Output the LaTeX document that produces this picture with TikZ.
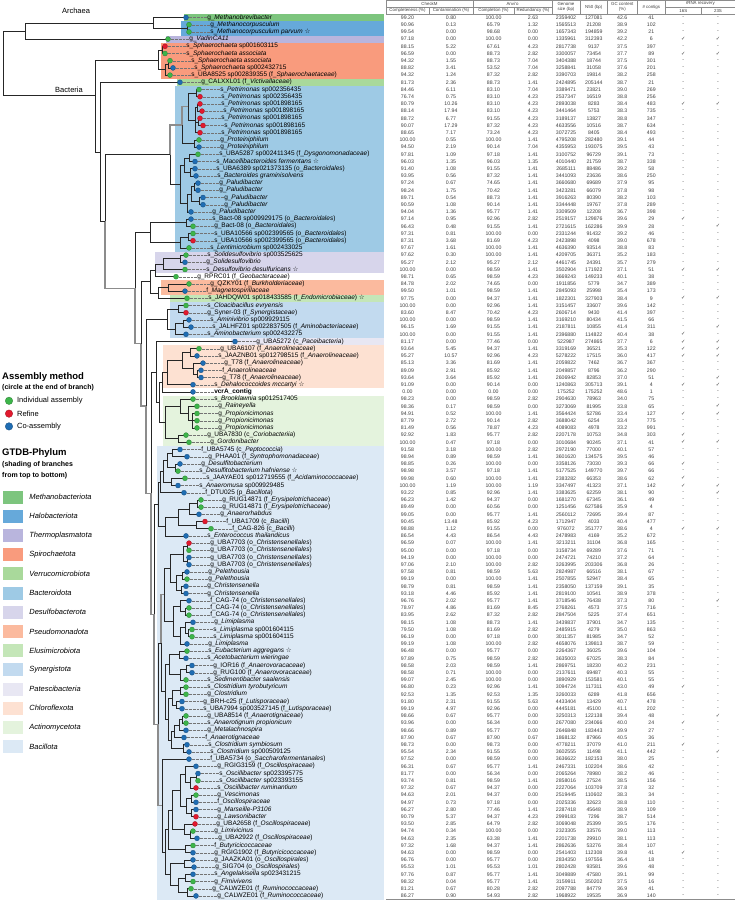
\documentclass[tikz,border=0pt]{standalone}
\usepackage{fontspec}
\setmainfont{Liberation Sans}
\newfontfamily\symfont{DejaVu Sans}
\usetikzlibrary{positioning}

\definecolor{cG}{HTML}{3DB54A}
\definecolor{cR}{HTML}{E2192E}
\definecolor{cB}{HTML}{1F6DB3}
\definecolor{phMeb}{HTML}{7DC57E}
\definecolor{phHal}{HTML}{66A9DA}
\definecolor{phThe}{HTML}{B9B5DD}
\definecolor{phSpi}{HTML}{F99B7D}
\definecolor{phVer}{HTML}{A9D99B}
\definecolor{phBac}{HTML}{9ECAE5}
\definecolor{phDes}{HTML}{D7D5EB}
\definecolor{phPse}{HTML}{FBBA9E}
\definecolor{phElu}{HTML}{C4E6B8}
\definecolor{phSyn}{HTML}{C2DAEF}
\definecolor{phPat}{HTML}{E8E7F3}
\definecolor{phChl}{HTML}{FDE1D2}
\definecolor{phAct}{HTML}{E4F3DD}
\definecolor{phBal}{HTML}{DCE9F5}

\newcommand{\st}{{\symfont\char"2606}}
\newcommand{\ck}{{\symfont\char"2713}}

\tikzset{
  br/.style={draw=black!85, line width=0.55pt},
  brg/.style={draw=black!45, line width=1.3pt},
  tip/.style={circle, draw=#1!70!black, fill=#1, line width=0.3pt, inner sep=0pt, minimum size=5pt},
  leader/.style={draw=black!55, densely dotted, line width=0.35pt},
  leaf/.style={inner sep=0.4pt, font=\fontsize{6.5}{7}\selectfont},
  cell/.style={inner sep=0pt, font=\fontsize{5.2}{6}\selectfont, text=black!75},
  hdr/.style={inner sep=0pt, font=\fontsize{4.4}{5}\selectfont, align=center, text=black!75},
  rule/.style={draw=black!45, line width=0.3pt},
  clade/.style={inner sep=1pt, font=\fontsize{7.5}{9}\selectfont},
  lgh/.style={inner sep=0pt, anchor=west, font=\fontsize{9.5}{11}\selectfont\bfseries},
  lgs/.style={inner sep=0pt, anchor=west, font=\fontsize{7}{8}\selectfont\bfseries},
  lgt/.style={inner sep=0pt, anchor=west, font=\fontsize{7.5}{9}\selectfont},
  phbox/.style={fill=#1, draw=none, minimum width=20pt, minimum height=13pt, inner sep=0pt},
}

% leaves: row / tip x / assembly colour / label
\def\leaves{1/186/cB/{g\_\textit{Methanobrevibacter}},
2/189/cG/{g\_\textit{Methanocorpusculum}},
3/189/cG/{s\_\textit{Methanocorpusculum parvum} \st},
4/168/cG/{g\_\textit{VadinCA11}},
5/165/cR/{s\_\textit{Sphaerochaeta} sp001603115},
6/165/cG/{s\_\textit{Sphaerochaeta associata}},
7/170/cG/{s\_\textit{Sphaerochaeta associata}},
8/173/cB/{s\_\textit{Sphaerochaeta} sp002432715},
9/170/cG/{s\_UBA8525 sp002839355 (f\_\textit{Sphaerochaetaceae})},
10/180/cB/{g\_CALXXL01 (f\_\textit{Victivallaceae})},
11/199/cG/{s\_\textit{Petrimonas} sp002356435},
12/200/cR/{s\_\textit{Petrimonas} sp002356435},
13/200/cR/{s\_\textit{Petrimonas} sp001898165},
14/202/cR/{s\_\textit{Petrimonas} sp001898165},
15/200/cR/{s\_\textit{Petrimonas} sp001898165},
16/203/cR/{s\_\textit{Petrimonas} sp001898165},
17/200/cR/{s\_\textit{Petrimonas} sp001898165},
18/199/cG/{g\_\textit{Proteiniphilum}},
19/199/cB/{g\_\textit{Proteiniphilum}},
20/198/cG/{s\_UBA5287 sp002411345 (f\_\textit{Dysgonomonadaceae})},
21/195/cB/{s\_\textit{Macellibacteroides fermentans} \st},
22/195/cB/{s\_UBA6389 sp021373135 (o\_\textit{Bacteroidales})},
23/196/cB/{s\_\textit{Bacteroides graminisolvens}},
24/198/cB/{g\_\textit{Paludibacter}},
25/198/cB/{g\_\textit{Paludibacter}},
26/203/cB/{g\_\textit{Paludibacter}},
27/203/cB/{g\_\textit{Paludibacter}},
28/191/cB/{g\_\textit{Paludibacter}},
29/191/cB/{s\_Bact-08 sp009929175 (o\_\textit{Bacteroidales})},
30/193/cG/{g\_Bact-08 (o\_\textit{Bacteroidales})},
31/193/cG/{s\_UBA10566 sp002399565 (o\_\textit{Bacteroidales})},
32/193/cR/{s\_UBA10566 sp002399565 (o\_\textit{Bacteroidales})},
33/189/cG/{s\_\textit{Lentimicrobium} sp002433025},
34/186/cG/{s\_\textit{Solidesulfovibrio} sp003525625},
35/185/cB/{g\_\textit{Solidesulfovibrio}},
36/185/cG/{s\_\textit{Desulfovibrio desulfuricans} \st},
37/176/cG/{g\_RPRC01 (f\_\textit{Geobacteraceae})},
38/189/cG/{g\_QZKY01 (f\_\textit{Burkholderiaceae})},
39/185/cB/{f\_\textit{Magnetospirillaceae}},
40/187/cG/{s\_JAHDQW01 sp018433585 (f\_\textit{Endomicrobiaceae}) \st},
41/186/cG/{s\_\textit{Cloacibacillus evryensis}},
42/186/cR/{g\_Syner-03 (f\_\textit{Synergistaceae})},
43/189/cB/{s\_\textit{Aminivibrio} sp009929115},
44/191/cB/{s\_JALHFZ01 sp022837505 (f\_\textit{Aminobacteriaceae})},
45/186/cB/{s\_\textit{Aminobacterium} sp002432275},
46/235/cB/{g\_UBA5272 (c\_\textit{Paceibacteria})},
47/199/cG/{g\_UBA6107 (f\_\textit{Anaerolineaceae})},
48/197/cB/{s\_JAAZNB01 sp012798515 (f\_\textit{Anaerolineaceae})},
49/203/cB/{g\_T78 (f\_\textit{Anaerolineaceae})},
50/201/cB/{f\_\textit{Anaerolineaceae}},
51/201/cB/{g\_T78 (f\_\textit{Anaerolineaceae})},
52/193/cB/{s\_\textit{Dehalococcoides mccartyi} \st},
53/193/cB/{\textbf{vcrA\_contig}},
54/193/cG/{s\_\textit{Brooklawnia} sp012517405},
55/197/cG/{g\_\textit{Raineyella}},
56/197/cG/{g\_\textit{Propionicimonas}},
57/197/cG/{g\_\textit{Propionicimonas}},
58/197/cG/{g\_\textit{Propionicimonas}},
59/186/cG/{g\_UBA7830 (c\_\textit{Coriobacteriia})},
60/189/cG/{g\_\textit{Gordonibacter}},
61/180/cB/{f\_UBA5745 (c\_\textit{Peptococcia})},
62/187/cB/{g\_PHAA01 (f\_\textit{Syntrophomonadaceae})},
63/180/cB/{g\_\textit{Desulfitobacterium}},
64/178/cG/{s\_\textit{Desulfitobacterium hafniense} \st},
65/185/cG/{s\_JAAYAE01 sp012719555 (f\_\textit{Acidaminococcaceae})},
66/178/cB/{s\_\textit{Anaeromusa} sp009929485},
67/184/cB/{f\_DTU025 (p\_\textit{Bacillota})},
68/201/cG/{g\_RUG14871 (f\_\textit{Erysipelotrichaceae})},
69/201/cG/{g\_RUG14871 (f\_\textit{Erysipelotrichaceae})},
70/199/cB/{g\_\textit{Anaerorhabdus}},
71/205/cR/{f\_UBA1709 (c\_\textit{Bacilli})},
72/211/cG/{f\_CAG-826 (c\_\textit{Bacilli})},
73/186/cB/{s\_\textit{Enterococcus thailandicus}},
74/189/cR/{g\_UBA7703 (o\_\textit{Christensenellales})},
75/189/cG/{g\_UBA7703 (o\_\textit{Christensenellales})},
76/189/cB/{g\_UBA7703 (o\_\textit{Christensenellales})},
77/189/cB/{g\_UBA7703 (o\_\textit{Christensenellales})},
78/187/cB/{g\_\textit{Pelethousia}},
79/187/cG/{g\_\textit{Pelethousia}},
80/186/cB/{g\_\textit{Christensenella}},
81/186/cB/{g\_\textit{Christensenella}},
82/189/cB/{f\_CAG-74 (o\_\textit{Christensenellales})},
83/189/cG/{f\_CAG-74 (o\_\textit{Christensenellales})},
84/189/cG/{f\_CAG-74 (o\_\textit{Christensenellales})},
85/193/cB/{g\_\textit{Limiplasma}},
86/192/cG/{s\_\textit{Limiplasma} sp001604115},
87/192/cG/{s\_\textit{Limiplasma} sp001604115},
88/187/cB/{g\_\textit{Limiplasma}},
89/187/cG/{s\_\textit{Eubacterium aggregans} \st},
90/186/cB/{s\_\textit{Acetobacterium wieringae}},
91/192/cB/{g\_IOR16 (f\_\textit{Anaerovoracaceae})},
92/192/cB/{g\_RUG100 (f\_\textit{Anaerovoracaceae})},
93/186/cG/{s\_\textit{Sedimentibacter saalensis}},
94/186/cG/{s\_\textit{Clostridium tyrobutyricum}},
95/186/cG/{g\_\textit{Clostridium}},
96/182/cB/{g\_BRH-c25 (f\_\textit{Lutisporaceae})},
97/182/cB/{s\_UBA7994 sp003527145 (f\_\textit{Lutisporaceae})},
98/186/cG/{g\_UBA8514 (f\_\textit{Anaerotignaceae})},
99/186/cG/{s\_\textit{Anaerotignum propionicum}},
100/186/cB/{g\_\textit{Metalachnospira}},
101/184/cB/{f\_\textit{Anaerotignaceae}},
102/187/cB/{s\_\textit{Clostridium symbiosum}},
103/189/cB/{s\_\textit{Clostridium} sp000509125},
104/189/cB/{f\_UBA5734 (o\_\textit{Saccharofermentanales})},
105/196/cB/{g\_RGIG3159 (f\_\textit{Oscillospiraceae})},
106/198/cB/{s\_\textit{Oscillibacter} sp023395775},
107/198/cG/{s\_\textit{Oscillibacter} sp023393155},
108/196/cR/{s\_\textit{Oscillibacter ruminantium}},
109/196/cG/{g\_\textit{Vescimonas}},
110/196/cB/{f\_\textit{Oscillospiraceae}},
111/196/cB/{g\_\textit{Marseille-P3106}},
112/196/cR/{g\_\textit{Lawsonibacter}},
113/195/cR/{g\_UBA2658 (f\_\textit{Oscillospiraceae})},
114/193/cG/{g\_\textit{Limivicinus}},
115/197/cB/{g\_UBA2922 (f\_\textit{Oscillospiraceae})},
116/193/cG/{f\_\textit{Butyricicoccaceae}},
117/193/cB/{g\_RGIG1902 (f\_\textit{Butyricicoccaceae})},
118/193/cB/{g\_JAAZKA01 (o\_\textit{Oscillospirales})},
119/194/cB/{g\_SIG704 (o\_\textit{Oscillospirales})},
120/193/cB/{s\_\textit{Angelakisella} sp023431215},
121/193/cG/{g\_\textit{Fimivivens}},
122/191/cG/{g\_CALWZE01 (f\_\textit{Ruminococcaceae})},
123/196/cB/{g\_CALWZE01 (f\_\textit{Ruminococcaceae})}}

% table: CheckM, Anvi'o, size, N50, GC, contigs, 16S, 23S
\def\tabrows{99.20/0.80/100.00/2.63/2359402/127081/42.6/41/-/-,
90.96/0.13/65.79/1.32/1565513/21208/38.9/102/-/-,
99.54/0.00/98.68/0.00/1657343/194859/39.2/21/-/-,
97.18/0.00/100.00/0.00/1335961/312393/42.2/6/\ck/\ck,
88.15/5.22/67.61/4.23/2817738/9137/37.5/397/-/-,
96.59/0.00/88.73/2.82/3300057/73454/37.7/89/\ck/\ck,
94.32/1.55/88.73/7.04/3404388/18744/37.5/301/-/-,
88.82/3.41/53.52/7.04/3258841/31058/37.6/201/-/-,
94.32/1.24/87.32/2.82/3390703/19814/38.2/258/-/-,
81.73/2.36/88.73/1.41/2424895/205144/38.7/21/-/-,
84.46/6.11/83.10/7.04/3389471/23821/39.0/269/-/-,
76.74/0.75/83.10/4.23/2537347/16519/38.8/256/-/-,
80.79/10.26/83.10/4.23/2893038/8283/38.4/483/\ck/\ck,
88.14/17.94/83.10/4.23/3441464/5753/38.3/735/-/-,
88.72/6.77/91.55/4.23/3189137/13827/38.8/347/-/-,
90.07/17.29/87.32/4.23/4633556/10516/38.7/634/-/-,
88.65/7.17/73.24/4.23/3072725/8405/38.4/493/-/-,
100.00/0.55/100.00/1.41/4795208/282480/39.1/44/-/-,
94.50/2.19/90.14/7.04/4355953/193075/39.5/43/-/-,
97.81/1.09/97.18/1.41/3100752/96729/39.1/73/-/-,
96.03/1.35/96.03/1.35/4010440/21759/38.7/338/-/-,
91.40/1.08/91.55/1.41/2685111/88486/39.2/58/-/-,
93.95/0.56/87.32/1.41/3441093/23636/38.6/250/-/-,
97.24/0.67/74.65/1.41/3660680/69689/37.9/95/-/-,
98.24/1.75/70.42/1.41/3423281/66079/37.8/98/-/-,
89.71/0.54/88.73/1.41/3916263/80390/38.2/103/-/-,
90.59/1.08/90.14/1.41/3344448/19767/37.8/289/-/-,
94.04/1.36/95.77/1.41/3309509/12208/36.7/398/-/-,
97.14/0.95/92.96/2.82/2519157/129876/39.6/29/\ck/-,
96.43/0.48/91.55/1.41/2721615/162286/39.9/28/-/\ck,
97.31/0.81/100.00/0.00/2331244/91432/39.2/46/-/-,
87.31/3.68/81.69/4.23/2423898/4098/39.0/678/-/-,
97.67/1.61/100.00/1.41/4636390/93514/38.8/83/-/-,
97.62/0.30/100.00/1.41/4209705/36371/35.2/183/-/-,
95.27/2.12/95.27/2.12/4461745/24391/35.7/279/-/-,
100.00/0.00/98.59/1.41/3502904/171922/37.1/51/\ck/\ck,
98.71/0.65/98.59/4.23/3669243/149233/40.1/38/-/-,
84.78/2.02/74.65/0.00/1911856/5779/34.7/389/-/-,
99.50/1.01/98.59/1.41/2845093/25998/35.4/173/-/-,
97.75/0.00/94.37/1.41/1822301/327903/38.4/9/\ck/\ck,
100.00/0.00/92.96/1.41/3151457/33607/39.6/142/-/-,
83.60/8.47/70.42/4.23/2606714/9430/41.4/397/-/-,
100.00/0.00/98.59/1.41/3169210/80434/41.5/66/-/-,
96.15/1.69/91.55/1.41/2187811/10855/41.4/311/-/\ck,
100.00/0.00/91.55/1.41/2396880/114822/40.4/38/\ck/-,
81.17/0.00/77.46/0.00/522987/274865/37.7/6/\ck/\ck,
93.64/5.45/94.37/1.41/3319169/36521/35.3/122/\ck/\ck,
95.27/10.57/92.96/4.23/5278222/17515/36.0/417/\ck/\ck,
85.13/3.36/81.69/1.41/2059822/7462/36.7/367/-/-,
89.09/2.91/85.92/1.41/2049857/8796/36.2/290/-/-,
93.64/3.64/85.92/1.41/2606942/82853/37.0/51/-/\ck,
91.09/0.00/90.14/0.00/1240863/305713/39.1/4/\ck/\ck,
0.00/0.00/0.00/0.00/175252/175252/48.6/1/-/-,
98.23/0.00/98.59/2.82/2904630/78963/34.0/75/-/-,
98.36/0.17/98.59/0.00/3273069/81995/33.8/65/-/\ck,
94.91/0.52/100.00/1.41/3564424/52786/33.4/127/\ck/\ck,
87.79/2.72/90.14/2.82/3688042/6254/33.4/775/-/-,
81.49/0.56/78.87/4.23/4089083/4978/33.2/991/-/-,
92.92/1.83/95.77/2.82/2207178/10753/34.8/303/\ck/-,
100.00/0.47/97.18/0.00/3010684/90245/37.1/41/\ck/\ck,
91.58/3.18/100.00/2.82/2972190/77000/40.1/57/-/-,
98.94/0.89/98.59/1.41/3601620/134575/39.5/46/-/-,
98.85/0.26/100.00/0.00/3358126/73030/39.3/66/\ck/-,
98.98/3.57/97.18/1.41/5177525/149770/39.7/66/-/-,
99.98/0.60/100.00/1.41/2383282/66353/38.6/62/\ck/-,
100.00/1.19/100.00/1.19/3347497/41323/37.1/142/\ck/\ck,
93.22/0.85/92.96/1.41/3383625/62259/38.1/90/-/\ck,
96.23/1.42/94.37/0.00/1681270/67345/36.1/49/-/-,
89.49/0.00/60.56/0.00/1251456/627586/35.9/4/-/-,
99.05/0.00/95.77/1.41/2560112/72695/39.4/87/-/-,
90.45/13.48/85.92/4.23/1712947/4033/40.4/477/-/-,
98.88/1.12/91.55/0.00/976072/351777/38.6/4/\ck/\ck,
86.54/4.43/86.54/4.43/2478983/4169/35.2/672/-/-,
96.59/0.07/100.00/1.41/3213211/31104/36.8/165/-/-,
95.00/0.00/97.18/0.00/3158734/69289/37.6/71/-/-,
94.19/0.00/100.00/0.00/2474721/74210/37.2/64/-/-,
97.06/2.10/100.00/2.82/3263995/203306/36.8/26/-/-,
97.58/0.81/98.59/5.63/2824987/66516/38.1/67/-/-,
99.19/0.00/100.00/1.41/2507855/52947/38.4/65/-/-,
98.79/0.81/98.59/1.41/2358050/137159/39.1/35/-/-,
93.18/4.46/85.92/1.41/2819100/10541/38.9/378/-/-,
96.76/2.02/95.77/1.41/3718546/76438/37.3/80/-/\ck,
78.97/4.86/81.69/8.45/2768261/4573/37.5/716/-/-,
83.95/2.62/87.32/2.82/2847504/5225/37.4/651/-/-,
98.15/1.08/88.73/1.41/3439837/37901/34.7/135/-/-,
79.50/1.08/81.69/2.82/2485915/4279/35.0/863/-/-,
96.19/0.00/97.18/0.00/3011357/81985/34.7/52/-/-,
99.19/1.08/100.00/2.82/4658076/139813/38.7/59/-/-,
96.48/0.00/95.77/0.00/2264367/36025/39.6/104/-/-,
97.89/0.75/98.59/2.82/3635003/67025/38.3/84/-/-,
98.58/2.03/98.59/1.41/2869751/18230/40.2/231/-/-,
98.58/0.71/100.00/0.00/2137611/69487/40.3/55/-/-,
99.07/2.45/100.00/0.00/3890929/153581/40.1/55/-/-,
96.80/0.23/92.96/1.41/3094724/117311/43.0/49/\ck/-,
92.53/1.35/92.53/1.35/3260033/6289/41.8/656/-/-,
91.80/2.31/91.55/5.63/4433404/13429/40.7/478/-/-,
99.19/4.97/92.96/0.00/4445181/45100/41.1/202/-/-,
98.66/0.67/95.77/0.00/3250313/122138/39.4/48/-/\ck,
93.96/0.00/56.34/0.00/2677080/234066/40.0/24/\ck/-,
98.66/0.89/95.77/0.00/2646848/183443/39.9/27/-/-,
87.90/0.67/87.90/0.67/1868132/87966/40.5/36/-/-,
98.73/0.00/98.73/0.00/4778211/37079/41.0/211/\ck/-,
95.54/2.34/91.55/0.00/3602555/11498/41.1/442/-/\ck,
97.52/0.00/98.59/0.00/3636622/182153/38.0/25/-/-,
96.31/0.67/95.77/1.41/2467331/102204/38.6/42/-/-,
81.77/0.00/56.34/0.00/2065264/78980/38.2/46/-/-,
93.74/0.81/98.59/1.41/2858016/27524/38.5/156/-/-,
97.32/0.67/94.37/0.00/2227064/103709/37.8/32/-/-,
94.63/2.01/94.37/0.00/2519445/110602/38.3/34/-/-,
94.97/0.73/97.18/0.00/2025336/32623/38.8/110/-/-,
96.27/2.80/77.46/1.41/2287418/45648/38.9/109/-/-,
90.79/5.37/94.37/4.23/2999183/7296/38.7/514/-/-,
93.50/2.85/64.79/2.82/3069048/25399/39.5/176/-/-,
94.74/0.34/100.00/0.00/2323305/33576/39.0/113/-/-,
94.63/2.35/63.38/1.41/2201738/29910/38.1/113/-/-,
97.32/1.68/94.37/1.41/2862636/53276/38.4/107/-/-,
94.63/0.00/98.59/0.00/2541403/112308/39.8/41/\ck/-,
96.76/0.00/95.77/0.00/2834350/197556/36.4/18/-/-,
95.53/1.01/95.53/1.01/2802428/93581/39.6/48/-/-,
97.76/0.87/95.77/1.41/3049889/47580/39.1/99/-/-,
98.32/0.04/95.77/1.41/3159911/350202/37.5/16/-/-,
81.21/0.67/80.28/2.82/2097788/84779/36.9/41/-/-,
86.27/0.90/54.93/2.82/1968922/19535/36.9/140/-/-}

\begin{document}
\begin{tikzpicture}[x=1pt, y=-1pt, declare function={ry(\i)=17.5+7.2*(\i-1);}]
  \useasboundingbox (0,0) rectangle (735,900);

  % phylum shading behind the tips
  \foreach \cl/\x/\ra/\rb in {phMeb/184/1/1, phHal/181/2/3, phThe/166/4/4, phSpi/161/5/9,
      phVer/177/10/10, phBac/175/11/33, phDes/155/34/36, phPse/161/38/39, phElu/170/40/40,
      phSyn/170/41/45, phPat/231/46/46, phChl/163/47/52, phAct/163/54/60, phBal/157/61/123}
    \fill[\cl] (\x,{ry(\ra)-3.6}) rectangle (384,{ry(\rb)+3.6});

  % tip points
  \foreach \i/\x/\cl/\t in \leaves
    \coordinate (p\i) at (\x,{ry(\i)});

  % inner nodes
  \foreach \n/\x/\y in {r0/3/63, nA0/25/31, nA1/153/22.9, nA2/187/28.3,
      nB/95/95, nSp/158/59.8, nS1/162/49.9, nS3/165/69.7, nS2/168/64.3,
      nC1/100/151.9, nC2/105/221.4, nBa1/170/154.5, nPP/182/125, nPe/188/106.6,
      nPe1/196/93.1, nPe5/195/120.1, nPe3/197/107.5, nPe4/198/121.9, nPr/194/143.5,
      nD/180/184, nD3/184/165.1, nD1/189/157.9, nD2/190/172.3, nPa/187/202.9,
      nPa3/191/193.9, nPa2/194/186.7, nPa1/199/201.1,
      nC3/135/288.2, nBa2/150/232.6, nBt/186/222.7, nU2/180/242.5, nU1/188/237.1,
      nC4/141/343.8, nDPE/150/281.7, nDs/155/270.4, nDs2/163/264.1, nDs1/180/258.7,
      nPE/158/292.9, nPs/168/287.5,
      nC5/146/406, nSy/167/319, nSy1/178/309.1, nSy3/175/328.9, nSy2/183/323.5,
      nC6/151/493.2, nC7/156/372, nC8/159/402.4, nChV/162/382.2, nCh/167/372.6,
      nCh4/182/360.4, nCh1/190/352.3, nCh3/193/368.5, nCh2/197/373.9,
      nAc/165/422.5, nBR/180/406.3, nRP/188/413.5, nPm/192/420.7, nCo/178/438.7,
      nBac/154/614.3, nBc7/158/504.2, nBc6/160/481.9, nBc5/163/471.1, nBc3/167/460.3,
      nBc1/172/453.1, nBc2/175/467.5, nBc4/171/481.9,
      nEr5/165/526.5, nEr4/178/517, nEr2/189/508.9, nEr1/197/503.5, nEr3/196/525.1,
      nL2/158/724.4, nL1/161/643.2, nChs/164/594.6, nUPC/170/568.3, nUB1/183/553.9,
      nUB1a/187/546.7, nUB1b/187/561.1, nPC/176/582.7, nPel/182/575.5, nChr/181/589.9,
      nCL/173/621, nCAG/180/606.1, nCAG1/185/611.5, nLi/180/635.8, nLi2/185/627.7,
      nLi1/188/633.1,
      nEC/165/691.7, nEA/169/664.6, nEu/179/654.7, nAn/180/674.5, nAn1/186/669.1,
      nCL3/168/718.8, nCL2/172/697.9, nCl1/180/690.7, nLu/176/705.1, nLa/171/739.8,
      nAg3/174/731.2, nAg2/179/724.9, nAg1/182/719.5, nCs/183/748.3,
      nOs/162/805.5, nOs10/165/851.9, nOs9/168/829.5, nOs8/172/809.8, nOs5/180/790.2,
      nOs3/185/774.4, nOs2/190/782.5, nOs1/196/777.1, nOs4/186/805.9, nOs4a/191/798.7,
      nOs4b/191/813.1, nOs7/184/829.3, nOs6/190/834.7, nBu/185/849.1,
      nJF/170/874.3, nJS/184/863.5, nFC/178/885.1, nFA/185/877.9, nCW/187/892.3}
    \coordinate (\n) at (\x,\y);

  % branches
  \foreach \p/\q in {nC2/nC3, nC3/nC4, nC4/nC5, nC5/nC6, nC6/nBac, nBac/nL2,
      nBa1/nPP, nPP/nPe, nL2/nOs, nL1/nChs}
    \draw[brg] (\p) |- (\q);
  \foreach \p/\q in {r0/nA0, r0/nB, nA0/nA1, nA0/p4, nA1/p1, nA1/nA2, nA2/p2, nA2/p3,
      nB/nSp, nB/nC1, nSp/nS1, nSp/nS3, nS1/p5, nS1/p6, nS3/nS2, nS3/p9, nS2/p7, nS2/p8,
      nC1/p10, nC1/nC2, nC2/nBa1,
      nBa1/nD, nPP/nPr, nPe/nPe1, nPe/nPe5, nPe1/p11, nPe1/p12, nPe5/nPe3,
      nPe5/nPe4, nPe5/p17, nPe3/p13, nPe3/p14, nPe4/p15, nPe4/p16, nPr/p18, nPr/p19,
      nD/nD3, nD/nPa, nD3/nD1, nD3/nD2, nD1/p20, nD1/p21, nD2/p22, nD2/p23, nPa/nPa3,
      nPa/p28, nPa3/nPa2, nPa3/nPa1, nPa2/p24, nPa2/p25, nPa1/p26, nPa1/p27,
      nC3/nBa2, nBa2/nBt, nBa2/nU2, nBt/p29, nBt/p30, nU2/nU1, nU2/p33, nU1/p31, nU1/p32,
      nC4/nDPE, nDPE/nDs, nDPE/nPE, nDs/nDs2, nDs/p37, nDs2/nDs1, nDs2/p36, nDs1/p34,
      nDs1/p35, nPE/nPs, nPE/p40, nPs/p38, nPs/p39,
      nC5/nSy, nSy/nSy1, nSy/nSy3, nSy1/p41, nSy1/p42, nSy3/nSy2, nSy3/p45, nSy2/p43, nSy2/p44,
      nC6/nC7, nC7/p46, nC7/nC8, nC8/nChV, nC8/nAc, nChV/nCh, nChV/p53, nCh/nCh4, nCh/p52,
      nCh4/nCh1, nCh4/nCh3, nCh1/p47, nCh1/p48, nCh3/p49, nCh3/nCh2, nCh2/p50, nCh2/p51,
      nAc/nBR, nAc/nCo, nBR/p54, nBR/nRP, nRP/p55, nRP/nPm, nPm/p56, nPm/p57, nPm/p58,
      nCo/p59, nCo/p60,
      nBac/nBc7, nBc7/nBc6, nBc7/nEr5, nBc6/nBc5, nBc6/p67, nBc5/nBc3, nBc5/nBc4,
      nBc3/nBc1, nBc3/nBc2, nBc1/p61, nBc1/p62, nBc2/p63, nBc2/p64, nBc4/p65, nBc4/p66,
      nEr5/nEr4, nEr5/p73, nEr4/nEr2, nEr4/nEr3, nEr2/nEr1, nEr2/p70, nEr1/p68, nEr1/p69,
      nEr3/p71, nEr3/p72,
      nL2/nL1, nL1/nEC, nChs/nUPC, nChs/nCL, nUPC/nUB1, nUPC/nPC, nUB1/nUB1a,
      nUB1/nUB1b, nUB1a/p74, nUB1a/p75, nUB1b/p76, nUB1b/p77, nPC/nPel, nPC/nChr,
      nPel/p78, nPel/p79, nChr/p80, nChr/p81,
      nCL/nCAG, nCL/nLi, nCAG/p82, nCAG/nCAG1, nCAG1/p83, nCAG1/p84, nLi/nLi2, nLi/p88,
      nLi2/p85, nLi2/nLi1, nLi1/p86, nLi1/p87,
      nEC/nEA, nEC/nCL3, nEA/nEu, nEA/nAn, nEu/p89, nEu/p90, nAn/nAn1, nAn/p93,
      nAn1/p91, nAn1/p92,
      nCL3/nCL2, nCL3/nLa, nCL2/nCl1, nCL2/nLu, nCl1/p94, nCl1/p95, nLu/p96, nLu/p97,
      nLa/nAg3, nLa/nCs, nAg3/nAg2, nAg3/p101, nAg2/nAg1, nAg2/p100, nAg1/p98, nAg1/p99,
      nCs/p102, nCs/p103,
      nOs/p104, nOs/nOs10, nOs10/nOs9, nOs10/nJF, nOs9/nOs8, nOs9/nBu, nOs8/nOs5,
      nOs8/nOs7, nOs5/nOs3, nOs5/nOs4, nOs3/p105, nOs3/nOs2, nOs2/nOs1, nOs2/p108,
      nOs1/p106, nOs1/p107, nOs4/nOs4a, nOs4/nOs4b, nOs4a/p109, nOs4a/p110, nOs4b/p111,
      nOs4b/p112, nOs7/p113, nOs7/nOs6, nOs6/p114, nOs6/p115, nBu/p116, nBu/p117,
      nJF/nJS, nJF/nFC, nJS/p118, nJS/p119, nFC/nFA, nFC/nCW, nFA/p120, nFA/p121,
      nCW/p122, nCW/p123}
    \draw[br] (\p) |- (\q);

  \node[clade, anchor=south] (tArc) at (76,15) {Archaea};
  \node[clade, anchor=south] (tBac) at (69,94) {Bacteria};

  % tips and names
  \foreach \i/\x/\cl/\t in \leaves {
    \node[tip=\cl] (l\i) at (p\i) {};
    \node[leaf, right=18pt of l\i] (n\i) {\t};
    \draw[leader] (l\i) -- (n\i);
  }

  % table header
  \draw[rule] (386,0.3) -- (735,0.3);
  \draw[rule] (386,7.3) -- (552,7.3) (665.6,7.3) -- (735,7.3);
  \draw[rule] (386,14.2) -- (735,14.2);
  \foreach \x in {386,473,552,580,607.5,637,665.6,735}
    \draw[rule] (\x,0.3) -- (\x,14.2);
  \foreach \x in {429,514,701}
    \draw[rule] (\x,7.3) -- (\x,14.2);
  \node[hdr] (hCm) at (429.5,3.8) {CheckM};
  \node[hdr] (hAn) at (512.5,3.8) {Anvi'o};
  \node[hdr] (hGs) at (566,7.3) {Genome\\size (bp)};
  \node[hdr] (hNf) at (593.8,7.3) {N50 (bp)};
  \node[hdr] (hGc) at (622.3,7.3) {GC content\\(\%)};
  \node[hdr] (hNc) at (651.3,7.3) {\# contigs};
  \node[hdr] (hRr) at (700.3,3.8) {rRNA recovery};
  \node[hdr] (hCa) at (407.5,10.8) {Completeness (\%)};
  \node[hdr] (hCb) at (451,10.8) {Contamination (\%)};
  \node[hdr] (hAa) at (493.5,10.8) {Completion (\%)};
  \node[hdr] (hAb) at (533,10.8) {Redundancy (\%)};
  \node[hdr] (hRa) at (683.3,10.8) {16S};
  \node[hdr] (hRb) at (718,10.8) {23S};

  % table body
  \foreach \cm/\ct/\an/\rd/\gs/\nf/\gc/\nc/\rs/\rl [count=\i] in \tabrows {
    \node[cell] (ta\i) at (407.5,{ry(\i)}) {\cm};
    \node[cell] (tb\i) at (451,{ry(\i)}) {\ct};
    \node[cell] (tc\i) at (493.5,{ry(\i)}) {\an};
    \node[cell] (td\i) at (533,{ry(\i)}) {\rd};
    \node[cell] (te\i) at (566,{ry(\i)}) {\gs};
    \node[cell] (tf\i) at (593.8,{ry(\i)}) {\nf};
    \node[cell] (tg\i) at (622.3,{ry(\i)}) {\gc};
    \node[cell] (th\i) at (651.3,{ry(\i)}) {\nc};
    \node[cell] (tj\i) at (683.3,{ry(\i)}) {\rs};
    \node[cell] (tk\i) at (718,{ry(\i)}) {\rl};
  }
  \draw[rule] (386,899.5) -- (735,899.5);

  % legend
  \node[lgh] (lgA) at (2,377) {Assembly method};
  \node[lgs] (lgA2) at (2,388) {(circle at the end of branch)};
  \foreach \cl/\tx [count=\k] in {cG/Individual assembly, cR/Refine, cB/Co-assembly} {
    \node[tip=\cl, minimum size=7.5pt] (am\k) at (9,{388+12.8*\k}) {};
    \node[lgt, right=4pt of am\k] (amt\k) {\tx};
  }
  \node[lgh] (lgB) at (2,453) {GTDB-Phylum};
  \node[lgs] (lgB2) at (2,465) {(shading of branches};
  \node[lgs] (lgB3) at (2,476) {from top to bottom)};
  \foreach \cl/\tx [count=\k] in {phMeb/Methanobacteriota, phHal/Halobacteriota,
      phThe/Thermoplasmatota, phSpi/Spirochaetota, phVer/Verrucomicrobiota,
      phBac/Bacteroidota, phDes/Desulfobacterota, phPse/Pseudomonadota,
      phElu/Elusimicrobiota, phSyn/Synergistota, phPat/Patescibacteria,
      phChl/Chloroflexota, phAct/Actinomycetota, phBal/Bacillota} {
    \node[phbox=\cl] (ph\k) at (13,{477.8+19.2*\k}) {};
    \node[lgt, right=6pt of ph\k] (pht\k) {\textit{\tx}};
  }
\end{tikzpicture}
\end{document}
